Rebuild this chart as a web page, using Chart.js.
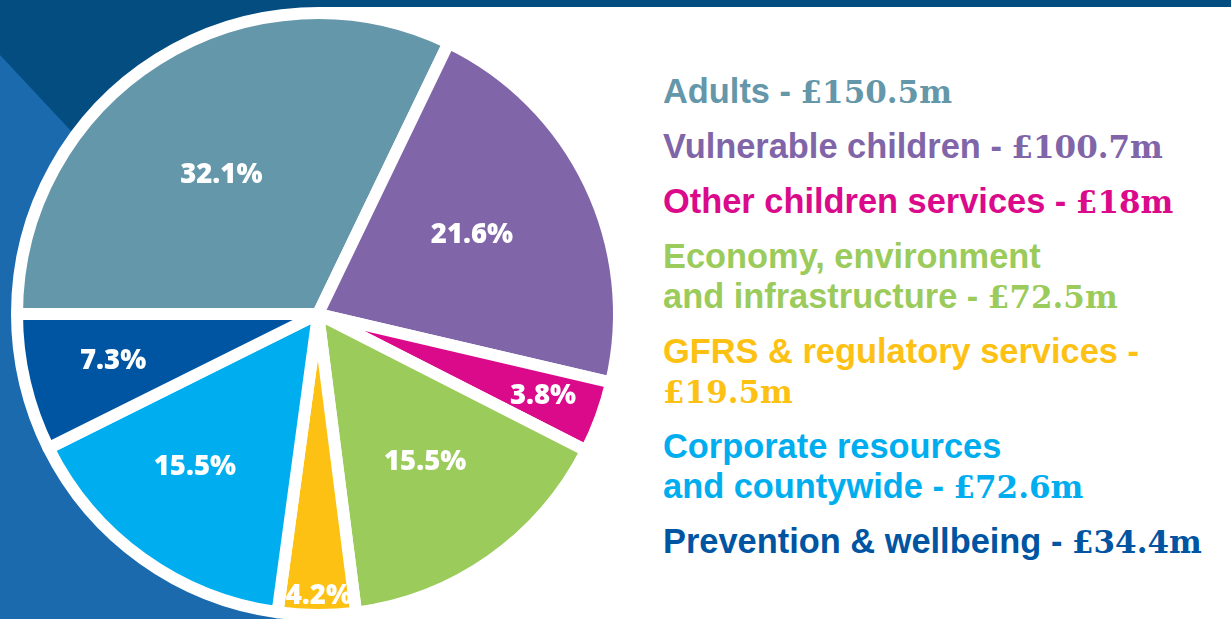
<!DOCTYPE html>
<html>
<head>
<meta charset="utf-8">
<title>Budget split</title>
<script src="https://cdn.jsdelivr.net/npm/chart.js@4.4.1/dist/chart.umd.min.js"></script>
<style>
  html, body { margin: 0; padding: 0; width: 1231px; height: 619px; overflow: hidden; background: #fff; }
  .band { position: absolute; left: 0; top: 0; width: 1231px; height: 7px; background: #034d81; }
  .panel { position: absolute; left: 0; top: 0; width: 318px; height: 619px; background: #1b6aad; }
  .panel-dark { position: absolute; left: 0; top: 0; width: 318px; height: 619px; background: #034d81;
    clip-path: polygon(0 0, 318px 0, 318px 395px, 0 55px); }
  #pie { position: absolute; left: 0; top: 0; }
  .legend { position: absolute; left: 663px; top: 71px; width: 575px; }
  .legend-row { font-family: "Liberation Sans", Arial, sans-serif; font-weight: bold; font-size: 34.4px;
    line-height: 40px; margin-bottom: 15px; white-space: pre-line; }
  .legend-row .amt { font-family: "DejaVu Serif", serif; font-weight: bold; font-size: 31px; line-height: 0; }
</style>
</head>
<body>
<div class="panel"></div>
<div class="panel-dark"></div>
<div class="band"></div>
<canvas id="pie" width="636" height="628"></canvas>
<div class="legend" id="legend"></div>

<script>
// service areas, clockwise from 9 o'clock
const categories = [
  'Adults',
  'Vulnerable children',
  'Other children services',
  'Economy, environment\nand infrastructure',
  'GFRS & regulatory services',
  'Corporate resources\nand countywide',
  'Prevention & wellbeing'
];
const spend = [150.5, 100.7, 18, 72.5, 19.5, 72.6, 34.4];   // £m
const amountLabels = ['£150.5m', '£100.7m', '£18m', '£72.5m', '£19.5m', '£72.6m', '£34.4m'];
const shareLabels = ['32.1%', '21.6%', '3.8%', '15.5%', '4.2%', '15.5%', '7.3%'];

const colours = ['#6497a9', '#8065a8', '#da0a8b', '#9bcb5b', '#fdc113', '#00aeef', '#0055a2'];
// where each % label sits: share of the radius, and a small turn (degrees) off the slice middle
const labelDist = [0.568, 0.578, 0.794, 0.601, 0.93, 0.648, 0.697];
const labelTurn = [-2.3, -2.2, -0.4, -1.2, -0.4, 3.5, 0.8];

// legend text on the right
document.getElementById('legend').innerHTML = categories.map((c, i) => `
  <div class="legend-row" style="color: ${colours[i]};">${c} - <span class="amt">${amountLabels[i]}</span></div>
`).join('');

// % labels inside the slices
const sliceLabels = {
  id: 'sliceLabels',
  afterDatasetsDraw(chart) {
    const { ctx } = chart;
    const meta = chart.getDatasetMeta(0);
    const size = 27.5;
    ctx.save();
    ctx.fillStyle = '#fff';
    ctx.font = `800 ${size}px "Open Sans", sans-serif`;
    ctx.textAlign = 'center';
    ctx.textBaseline = 'alphabetic';
    meta.data.forEach((arc, i) => {
      const { x, y, startAngle, endAngle, outerRadius } = arc.getProps(['x', 'y', 'startAngle', 'endAngle', 'outerRadius'], true);
      const mid = (startAngle + endAngle) / 2 + labelTurn[i] * Math.PI / 180;
      const r = outerRadius * labelDist[i];
      ctx.fillText(shareLabels[i], x + Math.cos(mid) * r, y + Math.sin(mid) * r + size * 0.36);
    });
    ctx.restore();
  }
};

new Chart(document.getElementById('pie'), {
  type: 'pie',
  data: {
    labels: categories,
    datasets: [{
      data: spend,
      backgroundColor: colours,
      borderColor: '#fff',
      borderWidth: 12,
      borderJoinStyle: 'round'
    }]
  },
  options: {
    responsive: false,
    animation: false,
    rotation: -90,
    radius: 301,
    layout: { padding: 0 },
    plugins: {
      legend: { display: false },
      tooltip: { enabled: false }
    }
  },
  plugins: [sliceLabels]
});
</script>
</body>
</html>
